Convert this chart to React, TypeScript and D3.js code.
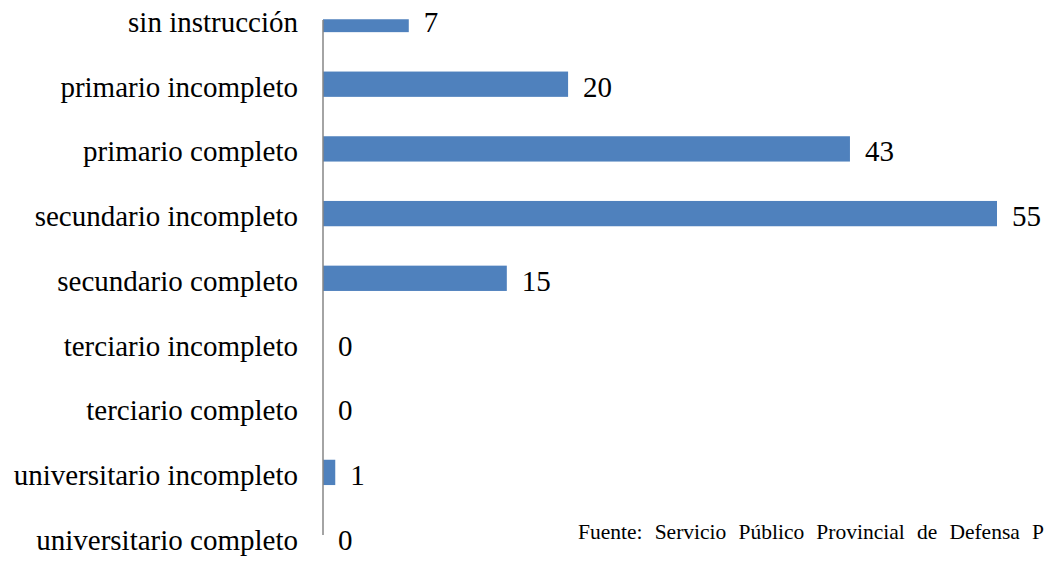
import React from "react";
import * as d3 from "d3";

const categories = [
  "sin instrucción",
  "primario incompleto",
  "primario completo",
  "secundario incompleto",
  "secundario completo",
  "terciario incompleto",
  "terciario completo",
  "universitario incompleto",
  "universitario completo",
];
const values = [7, 20, 43, 55, 15, 0, 0, 1, 0];
const sourceText = "Fuente: Servicio Público Provincial de Defensa P";

const W = 1048;
const H = 561;
const FONT = "Liberation Serif, Tinos, Times New Roman, serif";

export default function App() {
  const x = d3.scaleLinear().domain([0, 55]).range([323, 997]);
  const y = d3.scalePoint<string>().domain(categories).range([-12.85, 569.45]).padding(0.5);
  const barH = 25.3;

  return (
    <div style={{ fontFamily: FONT }}>
      <svg
        width={W}
        height={H}
        style={{ position: "absolute", left: 0, top: 0, display: "block", background: "#fff", fontFamily: FONT }}
      >
        <defs>
          <clipPath id="plotClip">
            <rect x={0} y={19.3} width={W} height={H} />
          </clipPath>
        </defs>
        <g clipPath="url(#plotClip)">
          {categories.map((c, i) => (
            <rect
              key={c}
              x={x(0)}
              y={(y(c) as number) - barH / 2}
              width={Math.max(0, x(values[i]) - x(0))}
              height={barH}
              fill="#4F81BD"
            />
          ))}
        </g>
        <line x1={x(0)} x2={x(0)} y1={20} y2={535} stroke="#868686" strokeWidth={1.5} />
        {categories.map((c) => (
          <text
            key={"l" + c}
            x={298}
            y={(y(c) as number) + 12.5}
            textAnchor="end"
            style={{ fontFamily: FONT, fontSize: 29 }}
            fill="#000"
          >
            {c}
          </text>
        ))}
        {categories.map((c, i) => (
          <text
            key={"v" + c}
            x={x(values[i]) + 15}
            y={(y(c) as number) + 12.5}
            style={{ fontFamily: FONT, fontSize: 29 }}
            fill="#000"
          >
            {values[i]}
          </text>
        ))}
        <text
          x={578}
          y={539}
          style={{ fontFamily: FONT, fontSize: 21.5, wordSpacing: 6.8 }}
          fill="#000"
        >
          {sourceText}
        </text>
      </svg>
    </div>
  );
}
